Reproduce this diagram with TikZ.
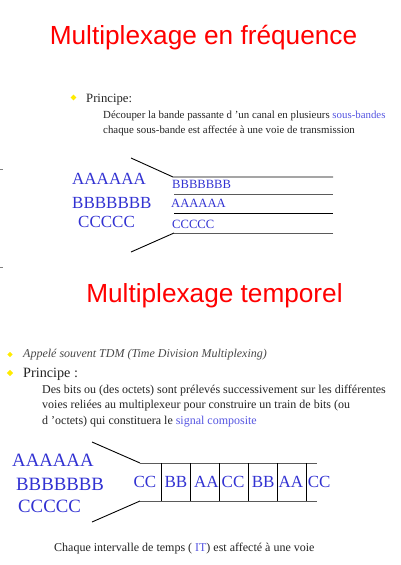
\documentclass[tikz,border=0pt]{standalone}
\usepackage{fontspec}
\setmainfont{Liberation Serif}
\newfontfamily\titlefont{Liberation Sans}
\usetikzlibrary{shapes.geometric}
\definecolor{titlered}{RGB}{255,0,0}
\definecolor{letterblue}{RGB}{50,50,210}
\definecolor{linkblue}{RGB}{85,85,225}
\definecolor{bodygray}{RGB}{35,35,35}
\definecolor{notegray}{RGB}{70,70,70}
\definecolor{bulletyellow}{RGB}{255,235,0}
\definecolor{railgray}{RGB}{90,90,90}
\newcommand{\fsz}[1]{\fontsize{#1}{#1}\selectfont}
\begin{document}
\begin{tikzpicture}[x=1pt,y=-1pt,
  title/.style={font=\titlefont\fsz{26.2}, text=titlered, inner sep=0, anchor=base},
  body/.style={inner sep=0, anchor=base west, text=bodygray},
  bullet/.style={diamond, fill=bulletyellow, inner sep=0, minimum size=6pt},
  chan/.style={inner sep=0, anchor=base west, text=letterblue},
  rail/.style={line width=0.9pt, black},
  railg/.style={line width=1pt, railgray},
  edgetick/.style={line width=1pt, gray}
]
\useasboundingbox (0,0) rectangle (401,565);

% ---------- frequency division ----------
\node[title] (t1) at (203.5,44) {Multiplexage en fréquence};

\node[bullet] (b1) at (73.5,97.5) {};
\node[body, font=\fsz{12.7}] (p1) at (86,102) {Principe:};
\node[body, font=\fsz{10.85}] (p1a) at (103,118)
  {Découper la bande passante d 'un canal en plusieurs \textcolor{linkblue}{sous-bandes}};
\node[body, font=\fsz{10.85}] (p1b) at (103,133)
  {chaque sous-bande est affectée à une voie de transmission};

\node[chan, font=\fsz{17}] (fa) at (72,184) {AAAAAA};
\node[chan, font=\fsz{17}] (fb) at (72,208) {BBBBBBB};
\node[chan, font=\fsz{17}] (fc) at (78,227) {CCCCC};

\coordinate (f0) at (131,158);
\coordinate (f1) at (173,177);
\coordinate (f1e) at (333,177);
\coordinate (f2) at (174,194);
\coordinate (f2e) at (333,194);
\coordinate (f3) at (174,213);
\coordinate (f3e) at (333,213);
\coordinate (f4) at (174,233);
\coordinate (f4e) at (333,233);
\coordinate (f5) at (131,252);

\draw[rail] (f0) -- (f1) -- (f1e);
\draw[railg] (f2) -- (f2e);
\draw[rail] (f3) -- (f3e);
\draw[railg] (f4e) -- (f4);
\draw[rail] (f4) -- (f5);

\node[chan, font=\fsz{12.6}] (sb) at (172,188) {BBBBBBB};
\node[chan, font=\fsz{12.6}] (sa) at (171,207) {AAAAAA};
\node[chan, font=\fsz{12.6}] (sc) at (172,228) {CCCCC};

\coordinate (m1a) at (0,169);
\coordinate (m1b) at (2.5,169);
\coordinate (m2a) at (0,267);
\coordinate (m2b) at (2.5,267);
\draw[edgetick] (m1a) -- (m1b);
\draw[edgetick] (m2a) -- (m2b);

% ---------- time division ----------
\node[title] (t2) at (214.5,302) {Multiplexage temporel};

\node[bullet, minimum size=5.5pt] (b2) at (10,354.5) {};
\node[body, text=notegray, font=\fsz{12}\itshape] (n2) at (23,357)
  {Appelé souvent TDM (Time Division Multiplexing)};
\node[bullet, minimum size=6.5pt] (b3) at (10,373) {};
\node[body, font=\fsz{14.2}] (p2) at (23,377) {Principe :};
\node[body, font=\fsz{12}] (p2a) at (42,393.3)
  {Des bits ou (des octets) sont prélevés successivement sur les différentes};
\node[body, font=\fsz{12}] (p2b) at (42,408.7)
  {voies reliées au multiplexeur pour construire un train de bits (ou};
\node[body, font=\fsz{12}] (p2c) at (42,424)
  {d 'octets) qui constituera le \textcolor{linkblue}{signal composite}};

\node[chan, font=\fsz{18.8}] (ta) at (12,466.7) {AAAAAA};
\node[chan, font=\fsz{18.8}] (tb) at (16,490) {BBBBBBB};
\node[chan, font=\fsz{18.8}] (tc) at (18,512.7) {CCCCC};

\coordinate (u0) at (92,442);
\coordinate (u1) at (140,463);
\coordinate (u1e) at (317,463);
\coordinate (d1) at (140,501);
\coordinate (d1e) at (317,501);
\coordinate (d0) at (92,522);
\draw[rail] (u0) -- (u1);
\draw[railg] (u1) -- (u1e);
\draw[railg] (d1) -- (d1e);
\draw[rail] (d1) -- (d0);

\foreach \x [count=\i] in {161.7,190.7,219.3,248.3,277.3,306}{
  \coordinate (vt\i) at (\x,463);
  \coordinate (vb\i) at (\x,501);
  \draw[rail] (vt\i) -- (vb\i);
}

\node[chan, font=\fsz{17}] (c1) at (133.3,487.7) {CC};
\node[chan, font=\fsz{17}] (c2) at (164.3,487.7) {BB};
\node[chan, font=\fsz{17}] (c3) at (194,487.7) {AA};
\node[chan, font=\fsz{17}] (c4) at (221.5,487.7) {CC};
\node[chan, font=\fsz{17}] (c5) at (251.7,487.7) {BB};
\node[chan, font=\fsz{17}] (c6) at (278.3,487.7) {AA};
\node[chan, font=\fsz{17}] (c7) at (307.7,487.7) {CC};

\node[body, font=\fsz{12}] (cap) at (54,551.7)
  {Chaque intervalle de temps ( \textcolor{linkblue}{IT}) est affecté à une voie};
\end{tikzpicture}
\end{document}
